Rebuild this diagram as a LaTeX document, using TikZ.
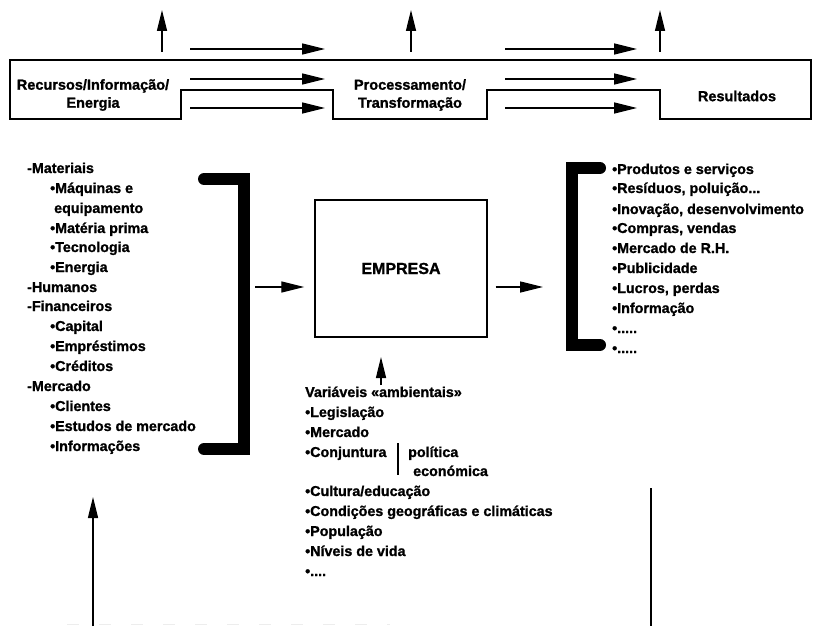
\documentclass[tikz,border=0pt]{standalone}
\usepackage{fontspec}
\setmainfont{Liberation Sans}
\newfontfamily\heavy{Liberation Sans Bold}[FakeBold=1.2]
\usetikzlibrary{arrows.meta}
\begin{document}
\begin{tikzpicture}[x=1pt,y=-1pt,
  txt/.style={font=\fontsize{14.3}{16}\selectfont\heavy, inner sep=0pt, anchor=base west},
  ctr/.style={font=\fontsize{14.5}{18}\selectfont\heavy, inner sep=0pt, align=center},
  flow/.style={line width=1.3pt, -{Triangle[length=23pt,width=11pt]}},
  rise/.style={line width=1.3pt, -{Triangle[length=21pt,width=10pt]}},
  brk/.style={line width=12pt, line cap=round, line join=miter},
  band/.style={line width=1.4pt},
  plain/.style={line width=1.4pt}
]
\useasboundingbox (0,0) rectangle (813,626);

% stepped band of the three stages
\draw[band] (10,60) -- (811,60) -- (811,119) -- (660,119) -- (660,90) -- (487,90)
  -- (487,119) -- (333,119) -- (333,90) -- (181,90) -- (181,119) -- (10,119) -- cycle;
\node[ctr] (recursos) at (93,95) {Recursos/Informação/\\Energia};
\node[ctr] (proc) at (410,95) {Processamento/\\Transformação};
\node[ctr] (resultados) at (737,96) {Resultados};

% flow arrows between the stages
\foreach \r/\y in {a/49,b/79,c/108}{
  \coordinate (f1\r) at (190,\y); \coordinate (t1\r) at (325,\y);
  \coordinate (f2\r) at (505,\y); \coordinate (t2\r) at (637,\y);
  \draw[flow] (f1\r) -- (t1\r);
  \draw[flow] (f2\r) -- (t2\r);
}
% upward arrows above the band
\foreach \i/\x in {1/162,2/411,3/660}{
  \coordinate (ub\i) at (\x,52); \coordinate (ut\i) at (\x,10);
  \draw[rise] (ub\i) -- (ut\i);
}

% inputs
\foreach \n/\x/\y/\t in {
  m1/27/173/{-Materiais},
  m2/50/193/{•Máquinas e},
  m3/54/213/{equipamento},
  m4/50/233/{•Matéria prima},
  m5/50/252/{•Tecnologia},
  m6/50/272/{•Energia},
  m7/27/292/{-Humanos},
  m8/27/311/{-Financeiros},
  m9/50/331/{•Capital},
  m10/50/351/{•Empréstimos},
  m11/50/371/{•Créditos},
  m12/27/391/{-Mercado},
  m13/50/411/{•Clientes},
  m14/50/431/{•Estudos de mercado},
  m15/50/451/{•Informações}}
  \node[txt] (\n) at (\x,\y) {\t};

% left bracket
\draw[brk] (204,179) -- (244,179) -- (244,449) -- (204,449);
\coordinate (lb) at (255,287);

% company
\node[draw, plain, minimum width=172pt, minimum height=137pt, inner sep=0pt,
      font=\fontsize{16}{18}\selectfont\heavy] (emp) at (401,268.5) {EMPRESA};
\draw[flow] (lb) -- ([xshift=-10pt]emp.west |- lb);
\coordinate (rb) at (543,287);
\draw[flow] ([xshift=8pt]emp.east |- rb) -- (rb);

% right bracket
\draw[brk] (600,168) -- (572,168) -- (572,345) -- (600,345);

% outputs
\foreach \n/\y/\t in {
  o1/174/{•Produtos e serviços},
  o2/193/{•Resíduos, poluição...},
  o3/214/{•Inovação, desenvolvimento},
  o4/233/{•Compras, vendas},
  o5/253/{•Mercado de R.H.},
  o6/273/{•Publicidade},
  o7/293/{•Lucros, perdas},
  o8/313/{•Informação},
  o9/333/{•.....},
  o10/353/{•.....}}
  \node[txt] (\n) at (612,\y) {\t};

% environment
\coordinate (envb) at (381,385);
\draw[rise] (envb) -- (envb |- 0,357);
\foreach \n/\y/\t in {
  v1/397/{Variáveis «ambientais»},
  v2/417/{•Legislação},
  v3/437/{•Mercado},
  v4/457/{•Conjuntura},
  v5/496/{•Cultura/educação},
  v6/516/{•Condições geográficas e climáticas},
  v7/536/{•População},
  v8/556/{•Níveis de vida},
  v9/576/{•....}}
  \node[txt] (\n) at (305,\y) {\t};
\node[txt] (pol) at (408,457) {política};
\node[txt] (eco) at (413,476) {económica};
\draw[line width=2.6pt] (398,443) -- (398,475);

% side lines at the bottom
\coordinate (la) at (93,626);
\draw[rise] (la) -- (93,497);
\draw[plain] (651,488) -- (651,626);
\draw[black!7, line width=0.8pt, dash pattern=on 12pt off 20pt] (67,624.5) -- (390,624.5);
\end{tikzpicture}
\end{document}
